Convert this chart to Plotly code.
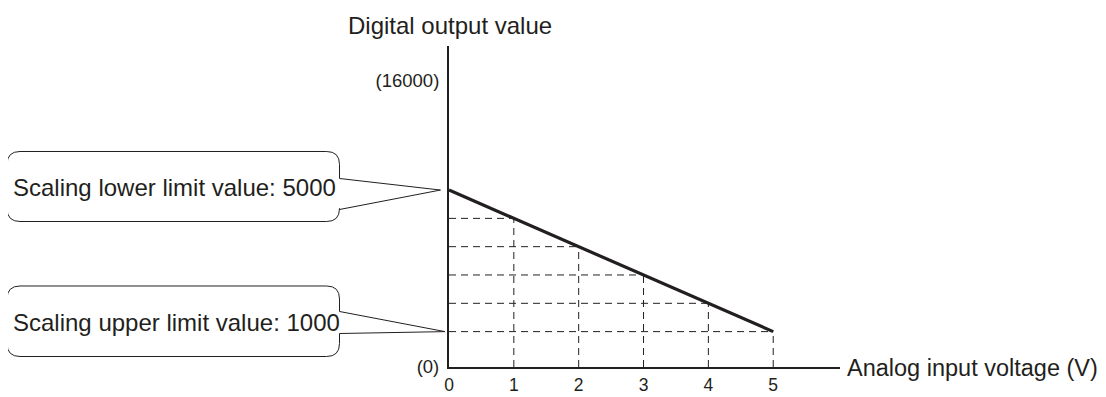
import plotly.graph_objects as go

# analog input (V) vs digital output, scaling 5000 -> 1000
voltage = [0, 1, 2, 3, 4, 5]
digital = [5000, 4200, 3400, 2600, 1800, 1000]

x_ticks = [0, 1, 2, 3, 4, 5]
x_ticktext = ["0", "1", "2", "3", "4", "5"]
y_ticks = [0, 8100]
y_ticktext = ["(0)", "(16000)"]

callouts = [("Scaling lower limit value: 5000", 5000),
            ("Scaling upper limit value: 1000", 1000)]

INK = "#231f20"
FONT = "Arial, Liberation Sans, sans-serif"

# page offset from the default body margin
OFF = 8
W, H = 1106 - OFF, 397 - OFF
# plot area in screen pixels
L, R, T, B = 449, 840, 46, 367
X_MAX, Y_MAX = 6.03, 9070


def px(x):
    return (x - L) / (R - L)


def py(y):
    return (B - y) / (B - T)


def val_py(v):
    # screen row of a data value on the y axis
    return B - v / Y_MAX * (B - T)


fig = go.Figure()

# dashed guides
hx, hy, vx, vy = [], [], [], []
for v, d in zip(voltage, digital):
    if v == 0:
        continue
    hx += [0, v, None]
    hy += [d, d, None]
    vx += [v, v, None]
    vy += [0, d, None]
fig.add_trace(go.Scatter(x=hx + vx, y=hy + vy, mode="lines",
                         line=dict(color=INK, width=1, dash="7px,5px"),
                         hoverinfo="skip", showlegend=False))

fig.add_trace(go.Scatter(x=voltage, y=digital, mode="lines",
                         line=dict(color=INK, width=3.2), showlegend=False))

# callout boxes
boxes = [(151.5, 221.5, 178.5, 209.5, 440.5), (286, 356.5, 311.5, 333.5, 445)]
r = 13
x0, x1 = 7, 339.5
for (text, val), (top, bot, g0, g1, tipx) in zip(callouts, boxes):
    tipy = val_py(val)
    pts = [
        ("M", [(x0 + r, top)]),
        ("L", [(x1 - r, top)]),
        ("Q", [(x1, top), (x1, top + r)]),
        ("L", [(x1, g0)]),
        ("L", [(tipx, tipy)]),
        ("L", [(x1, g1)]),
        ("L", [(x1, bot - r)]),
        ("Q", [(x1, bot), (x1 - r, bot)]),
        ("L", [(x0 + r, bot)]),
        ("Q", [(x0, bot), (x0, bot - r)]),
        ("L", [(x0, top + r)]),
        ("Q", [(x0, top), (x0 + r, top)]),
    ]
    path = " ".join(c + " " + " ".join(f"{px(a):.5f},{py(b):.5f}" for a, b in p) for c, p in pts) + " Z"
    fig.add_shape(type="path", path=path, xref="paper", yref="paper",
                  line=dict(color=INK, width=1), fillcolor="white")
    fig.add_annotation(text=text, xref="paper", yref="paper",
                       x=px(11), y=py((top + bot) / 2 + 1), xanchor="left", yanchor="middle",
                       showarrow=False, font=dict(size=24, color=INK, family=FONT))

# axis titles
fig.add_annotation(text="Digital output value", xref="paper", yref="paper",
                   x=px(346), y=py(25), xanchor="left", yanchor="middle",
                   showarrow=False, font=dict(size=24, color=INK, family=FONT))
fig.add_annotation(text="Analog input voltage (V)", xref="paper", yref="paper",
                   x=px(845), y=py(368), xanchor="left", yanchor="middle",
                   showarrow=False, font=dict(size=23.5, color=INK, family=FONT))

fig.update_xaxes(range=[0, X_MAX], showgrid=False, zeroline=False, automargin=False,
                 showline=True, linecolor=INK, linewidth=2,
                 tickvals=x_ticks, ticktext=x_ticktext,
                 ticks="outside", ticklen=1, tickcolor="rgba(0,0,0,0)",
                 tickfont=dict(size=17.5, color=INK, family=FONT))
fig.update_yaxes(range=[0, Y_MAX], showgrid=False, zeroline=False, automargin=False,
                 showline=True, linecolor=INK, linewidth=2,
                 tickvals=y_ticks, ticktext=y_ticktext,
                 ticks="outside", ticklen=4, tickcolor="rgba(0,0,0,0)",
                 tickfont=dict(size=18.5, color=INK, family=FONT))

fig.update_layout(width=W, height=H,
                  margin=dict(l=L - OFF, r=1106 - R, t=T - OFF, b=397 - B),
                  plot_bgcolor="white", paper_bgcolor="white",
                  showlegend=False)

fig.write_html("out.html")
